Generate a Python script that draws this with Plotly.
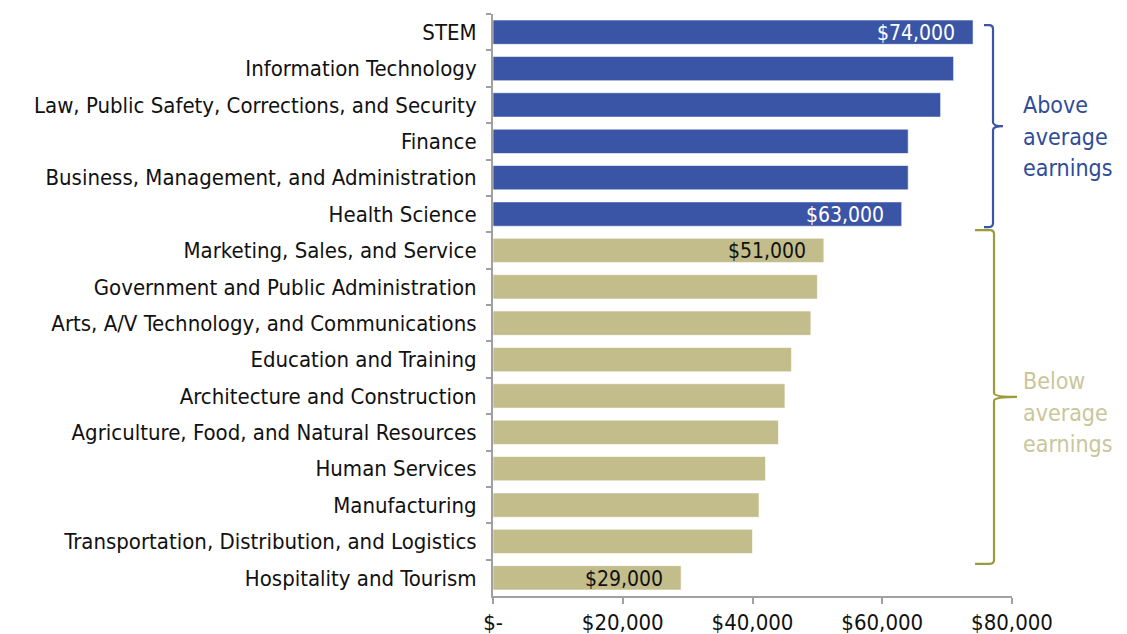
import plotly.graph_objects as go

categories = [
    "STEM",
    "Information Technology",
    "Law, Public Safety, Corrections, and Security",
    "Finance",
    "Business, Management, and Administration",
    "Health Science",
    "Marketing, Sales, and Service",
    "Government and Public Administration",
    "Arts, A/V Technology, and Communications",
    "Education and Training",
    "Architecture and Construction",
    "Agriculture, Food, and Natural Resources",
    "Human Services",
    "Manufacturing",
    "Transportation, Distribution, and Logistics",
    "Hospitality and Tourism",
]
earnings = [74000, 71000, 69000, 64000, 64000, 63000,
            51000, 50000, 49000, 46000, 45000, 44000, 42000, 41000, 40000, 29000]
group = ["above"] * 6 + ["below"] * 10
labeled = {"STEM": "$74,000", "Health Science": "$63,000",
           "Marketing, Sales, and Service": "$51,000", "Hospitality and Tourism": "$29,000"}
tick_vals = [0, 20000, 40000, 60000, 80000]
tick_text = ["$-", "$20,000", "$40,000", "$60,000", "$80,000"]
above_words = ["Above", "average", "earnings"]
below_words = ["Below", "average", "earnings"]

BLUE = "#3A55A6"
TAN = "#C2BD8A"
OLIVE = "#9C9B3A"
FONT = "DejaVu Sans Condensed, Liberation Sans Narrow, Arial Narrow, sans-serif"

W, H = 1127, 634
ML, MR, MT, MB = 492.5, 115, 13.8, 37.8
pw = W - ML - MR
ph = H - MT - MB


def px(x):
    return (x - ML) / pw


def py(y):
    return (H - MB - y) / ph


colors = [BLUE if g == "above" else TAN for g in group]

fig = go.Figure(go.Bar(
    y=categories, x=earnings, orientation="h",
    marker=dict(color=colors, line=dict(color="white", width=0.6)),
    hoverinfo="skip",
))

annotations = []
for c, v in zip(categories, earnings):
    if c in labeled:
        g = group[categories.index(c)]
        annotations.append(dict(
            x=v, y=c, xref="x", yref="y", text=labeled[c], showarrow=False,
            xanchor="right", xshift=-16, yshift=-1,
            font=dict(family=FONT, size=21, color="white" if g == "above" else "#111111"),
        ))


def brace(x0, xv, xt, ytop, ymid, ybot, color):
    r = 4
    p = (f"M {px(x0)},{py(ytop)} L {px(xv - r)},{py(ytop)} "
         f"Q {px(xv)},{py(ytop)} {px(xv)},{py(ytop + r)} "
         f"L {px(xv)},{py(ymid - r)} Q {px(xv)},{py(ymid)} {px(xt)},{py(ymid)} "
         f"Q {px(xv)},{py(ymid)} {px(xv)},{py(ymid + r)} "
         f"L {px(xv)},{py(ybot - r)} Q {px(xv)},{py(ybot)} {px(xv - r)},{py(ybot)} "
         f"L {px(x0)},{py(ybot)}")
    return dict(type="path", path=p, xref="paper", yref="paper",
                line=dict(color=color, width=2.2))


shapes = [
    brace(984, 993, 1003, 25, 126, 227, BLUE),
    brace(975, 994, 1017, 230, 397, 564, OLIVE),
]

for words, ys, col in [(above_words, [105, 137, 168], "#2F4C98"),
                       (below_words, [381, 413, 444], "#C9C69A")]:
    for w, yy in zip(words, ys):
        annotations.append(dict(
            x=px(1021), y=py(yy), xref="paper", yref="paper", showarrow=False,
            xanchor="left", yanchor="middle", align="left", text=w,
            font=dict(family=FONT, size=23, color=col),
        ))

fig.update_layout(
    width=W, height=H,
    margin=dict(l=ML, r=MR, t=MT, b=MB, pad=0, autoexpand=False),
    paper_bgcolor="white", plot_bgcolor="white",
    bargap=0.33,
    showlegend=False,
    font=dict(family=FONT, size=22, color="#111111"),
    shapes=shapes,
    annotations=annotations,
    xaxis=dict(
        range=[0, 80000], tickvals=tick_vals, ticktext=tick_text,
        showgrid=False, zeroline=False, automargin=False,
        showline=True, linecolor="#A0A0A0", linewidth=2,
        ticks="outside", ticklen=6, tickwidth=2, tickcolor="#A0A0A0",
        tickfont=dict(family=FONT, size=22, color="#111111"),
        fixedrange=True,
    ),
    yaxis=dict(
        categoryorder="array", categoryarray=categories, autorange="reversed",
        showgrid=False, zeroline=False, automargin=False,
        showline=True, linecolor="#A0A0A0", linewidth=2,
        ticks="outside", ticklen=5, tickwidth=2, tickcolor="#A0A0A0",
        tickson="boundaries", ticklabelstandoff=10,
        tickfont=dict(family=FONT, size=22, color="#111111"),
        fixedrange=True,
    ),
)

fig.write_html("out.html", config={"displayModeBar": False},
               post_script="document.body.style.margin='0';document.body.style.overflow='hidden';")
